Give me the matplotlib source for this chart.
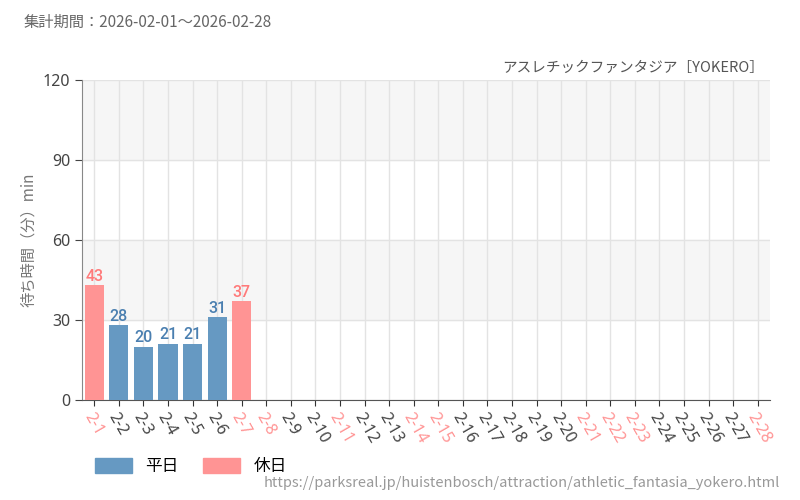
import matplotlib.pyplot as plt
from matplotlib.patches import Patch

plt.rcParams['font.family'] = ['Noto Sans CJK JP', 'DejaVu Sans']

days = [f"2-{d}" for d in range(1, 29)]
holidays = {"2-1", "2-7", "2-8", "2-11", "2-14", "2-15", "2-21", "2-22", "2-23", "2-28"}
waits = [43, 28, 20, 21, 21, 31, 37]

blue = '#6699c2'
red = '#ff9494'
blue_txt = '#4a7fb0'
red_txt = '#ff7a7a'

fig = plt.figure(figsize=(8, 5), dpi=100)
ax = fig.add_axes([0.1025, 0.2, 0.86, 0.64])

for lo in (30, 90):
    ax.axhspan(lo, lo + 30, color='#f6f6f6', zorder=0)

x = list(range(len(days)))
for i, v in enumerate(waits):
    hol = days[i] in holidays
    ax.bar(i, v, width=0.78, color=red if hol else blue, zorder=3)
    ax.text(i, v + 0.6, str(v), ha='center', va='bottom', fontsize=11.5,
            color=red_txt if hol else blue_txt, family='Roboto',
            fontweight='medium', zorder=4, transform=ax.transData)

ax.set_xlim(-0.5, len(days) - 0.5)
ax.set_ylim(0, 120)
ax.set_yticks([0, 30, 60, 90, 120])
ax.set_xticks(x)
ax.set_xticklabels(days, rotation=-60, ha='left', rotation_mode='anchor',
                   fontsize=11.5, family='Noto Sans')
for lbl in ax.get_xticklabels():
    lbl.set_color(red if lbl.get_text() in holidays else '#444444')
ax.set_yticklabels(['0', '30', '60', '90', '120'], family='Noto Sans')
ax.tick_params(axis='y', labelsize=11.5, colors='#444444', length=5)
ax.tick_params(axis='x', length=4, color='#333333', pad=3)
ax.grid(True, color='#e3e3e3', linewidth=1, zorder=1)
ax.set_axisbelow(True)
for s in ('top', 'right'):
    ax.spines[s].set_visible(False)
ax.spines['left'].set_color('#888888')
ax.spines['bottom'].set_color('#555555')
ax.set_ylabel('待ち時間（分）min', fontsize=11, color='#777777')

fig.text(0.03, 0.955, '集計期間：2026-02-01～2026-02-28', fontsize=11, color='#666666', va='center')
fig.text(0.955, 0.865, 'アスレチックファンタジア［YOKERO］', fontsize=10.5, color='#555555', ha='right', va='center')
fig.text(0.975, 0.035, 'https://parksreal.jp/huistenbosch/attraction/athletic_fantasia_yokero.html',
         fontsize=10.5, color='#999999', ha='right', va='center')

fig.legend(handles=[Patch(color=blue, label='平日'), Patch(color=red, label='休日')],
           loc='center left', bbox_to_anchor=(0.1, 0.067), ncol=2, frameon=False,
           fontsize=12, handlelength=2.2, handleheight=1.0, columnspacing=1.5)

fig.savefig('out.png')
